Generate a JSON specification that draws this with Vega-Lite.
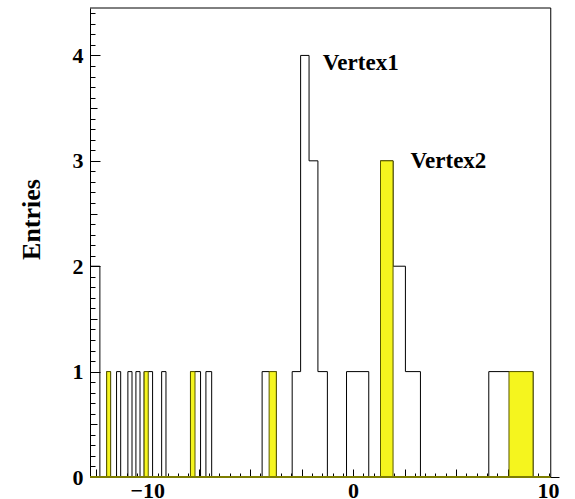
{
  "$schema": "https://vega.github.io/schema/vega-lite/v6.json",
  "width": 469,
  "height": 469,
  "autosize": "none",
  "padding": {"left": 90, "top": 8, "right": 16, "bottom": 22},
  "background": "white",
  "config": {
    "view": {"stroke": null},
    "axis": {"grid": false, "labelFont": "Liberation Serif", "labelFontSize": 22, "labelFontWeight": "bold", "labelColor": "black", "domainColor": "black", "tickColor": "black", "titleColor": "black"}
  },
  "datasets": {
    "black": [
      {"x": -12.78, "n": 2}, {"x": -12.30, "n": 0}, {"x": -11.97, "n": 1}, {"x": -11.78, "n": 0},
      {"x": -11.49, "n": 1}, {"x": -11.29, "n": 0}, {"x": -10.94, "n": 1}, {"x": -10.74, "n": 0},
      {"x": -10.55, "n": 1}, {"x": -10.35, "n": 0}, {"x": -10.15, "n": 1}, {"x": -9.74, "n": 0},
      {"x": -9.30, "n": 1}, {"x": -9.09, "n": 0}, {"x": -7.90, "n": 1}, {"x": -7.41, "n": 0},
      {"x": -7.15, "n": 1}, {"x": -6.87, "n": 0}, {"x": -4.42, "n": 1}, {"x": -3.73, "n": 0},
      {"x": -2.96, "n": 1}, {"x": -2.55, "n": 4}, {"x": -2.14, "n": 3}, {"x": -1.71, "n": 1},
      {"x": -1.25, "n": 0}, {"x": -0.32, "n": 1}, {"x": 0.76, "n": 0}, {"x": 1.33, "n": 3},
      {"x": 1.94, "n": 2}, {"x": 2.54, "n": 1}, {"x": 3.27, "n": 0}, {"x": 6.59, "n": 1},
      {"x": 8.74, "n": 0}, {"x": 9.6, "n": 0}
    ],
    "yellow": [
      {"x": -11.97, "x2": -11.78, "n": 1},
      {"x": -10.15, "x2": -9.95, "n": 1},
      {"x": -7.90, "x2": -7.68, "n": 1},
      {"x": -4.08, "x2": -3.73, "n": 1},
      {"x": 1.33, "x2": 1.94, "n": 3},
      {"x": 7.57, "x2": 8.74, "n": 1}
    ]
  },
  "resolve": {"axis": {"x": "independent", "y": "independent"}},
  "layer": [
    {
      "data": {"name": "black"},
      "mark": {"type": "line", "interpolate": "step-after", "color": "black", "strokeWidth": 1},
      "encoding": {
        "x": {"field": "x", "type": "quantitative", "scale": {"domain": [-12.78, 10], "nice": false, "zero": false},
          "axis": {"orient": "bottom", "values": [-10, 0, 10], "ticks": false, "labelFlush": true, "labelPadding": 3, "title": null, "domainWidth": 1}},
        "y": {"field": "n", "type": "quantitative", "scale": {"domain": [0, 4.45], "nice": false},
          "axis": {"orient": "left", "values": [0, 1, 2, 3, 4], "tickSize": -10, "labelPadding": 17, "domainWidth": 1,
            "title": "Entries", "titleFont": "Liberation Serif", "titleFontSize": 26, "titleFontWeight": "bold",
            "titleAngle": -90, "titleX": -59, "titleY": 211, "titleAlign": "center", "titleBaseline": "middle"}}
      }
    },
    {
      "data": {"name": "yellow"},
      "mark": {"type": "rect", "color": "#f5f51e", "stroke": "#5a5a00", "strokeWidth": 1},
      "encoding": {
        "x": {"field": "x", "type": "quantitative", "scale": {"domain": [-12.78, 10], "nice": false, "zero": false},
          "axis": {"orient": "bottom", "values": [-12.5, -10, -7.5, -5, -2.5, 0, 2.5, 5, 7.5], "tickSize": -8, "labels": false, "domain": false, "title": null}},
        "x2": {"field": "x2"},
        "y": {"field": "n", "type": "quantitative", "scale": {"domain": [0, 4.45], "nice": false},
          "axis": {"orient": "left", "values": [0.5, 1.5, 2.5, 3.5], "tickSize": -7, "labels": false, "domain": false, "title": null}},
        "y2": {"datum": 0}
      }
    },
    {
      "data": {"values": [{}]},
      "mark": {"type": "rule", "color": "#7d7d00", "strokeWidth": 2},
      "encoding": {
        "x": {"datum": -12.78, "type": "quantitative", "scale": {"domain": [-12.78, 10], "nice": false, "zero": false},
          "axis": {"orient": "bottom", "values": [-12, -11.5, -11, -10.5, -9.5, -9, -8.5, -8, -7, -6.5, -6, -5.5, -4.5, -4, -3.5, -3, -2, -1.5, -1, -0.5, 0.5, 1, 1.5, 2, 3, 3.5, 4, 4.5, 5.5, 6, 6.5, 7, 8, 8.5, 9, 9.5], "tickSize": -4, "labels": false, "domain": false, "title": null}},
        "x2": {"datum": 9.6},
        "y": {"datum": 0, "type": "quantitative", "scale": {"domain": [0, 4.45], "nice": false},
          "axis": {"orient": "left", "values": [0.1, 0.2, 0.3, 0.4, 0.6, 0.7, 0.8, 0.9, 1.1, 1.2, 1.3, 1.4, 1.6, 1.7, 1.8, 1.9, 2.1, 2.2, 2.3, 2.4, 2.6, 2.7, 2.8, 2.9, 3.1, 3.2, 3.3, 3.4, 3.6, 3.7, 3.8, 3.9, 4.1, 4.2, 4.3, 4.4], "tickSize": -5, "labels": false, "domain": false, "title": null}}
      }
    },
    {
      "data": {"values": [{}]},
      "mark": {"type": "rule", "color": "black", "strokeWidth": 1},
      "encoding": {
        "x": {"datum": -12.78, "type": "quantitative", "axis": null},
        "x2": {"datum": 9.6},
        "y": {"datum": 4.45, "type": "quantitative", "axis": null}
      }
    },
    {
      "data": {"values": [{}]},
      "mark": {"type": "rule", "color": "black", "strokeWidth": 1},
      "encoding": {
        "x": {"datum": 9.6, "type": "quantitative", "axis": null},
        "y": {"datum": 0, "type": "quantitative", "axis": null},
        "y2": {"datum": 4.45}
      }
    },
    {
      "data": {"values": [{}]},
      "mark": {"type": "text", "font": "Liberation Serif", "fontSize": 23, "fontWeight": "bold", "align": "left", "baseline": "alphabetic", "color": "black"},
      "encoding": {
        "x": {"datum": -1.47, "type": "quantitative", "axis": null},
        "y": {"datum": 3.865, "type": "quantitative", "axis": null},
        "text": {"value": "Vertex1"}
      }
    },
    {
      "data": {"values": [{}]},
      "mark": {"type": "text", "font": "Liberation Serif", "fontSize": 23, "fontWeight": "bold", "align": "left", "baseline": "alphabetic", "color": "black"},
      "encoding": {
        "x": {"datum": 2.79, "type": "quantitative", "axis": null},
        "y": {"datum": 2.93, "type": "quantitative", "axis": null},
        "text": {"value": "Vertex2"}
      }
    }
  ]
}
